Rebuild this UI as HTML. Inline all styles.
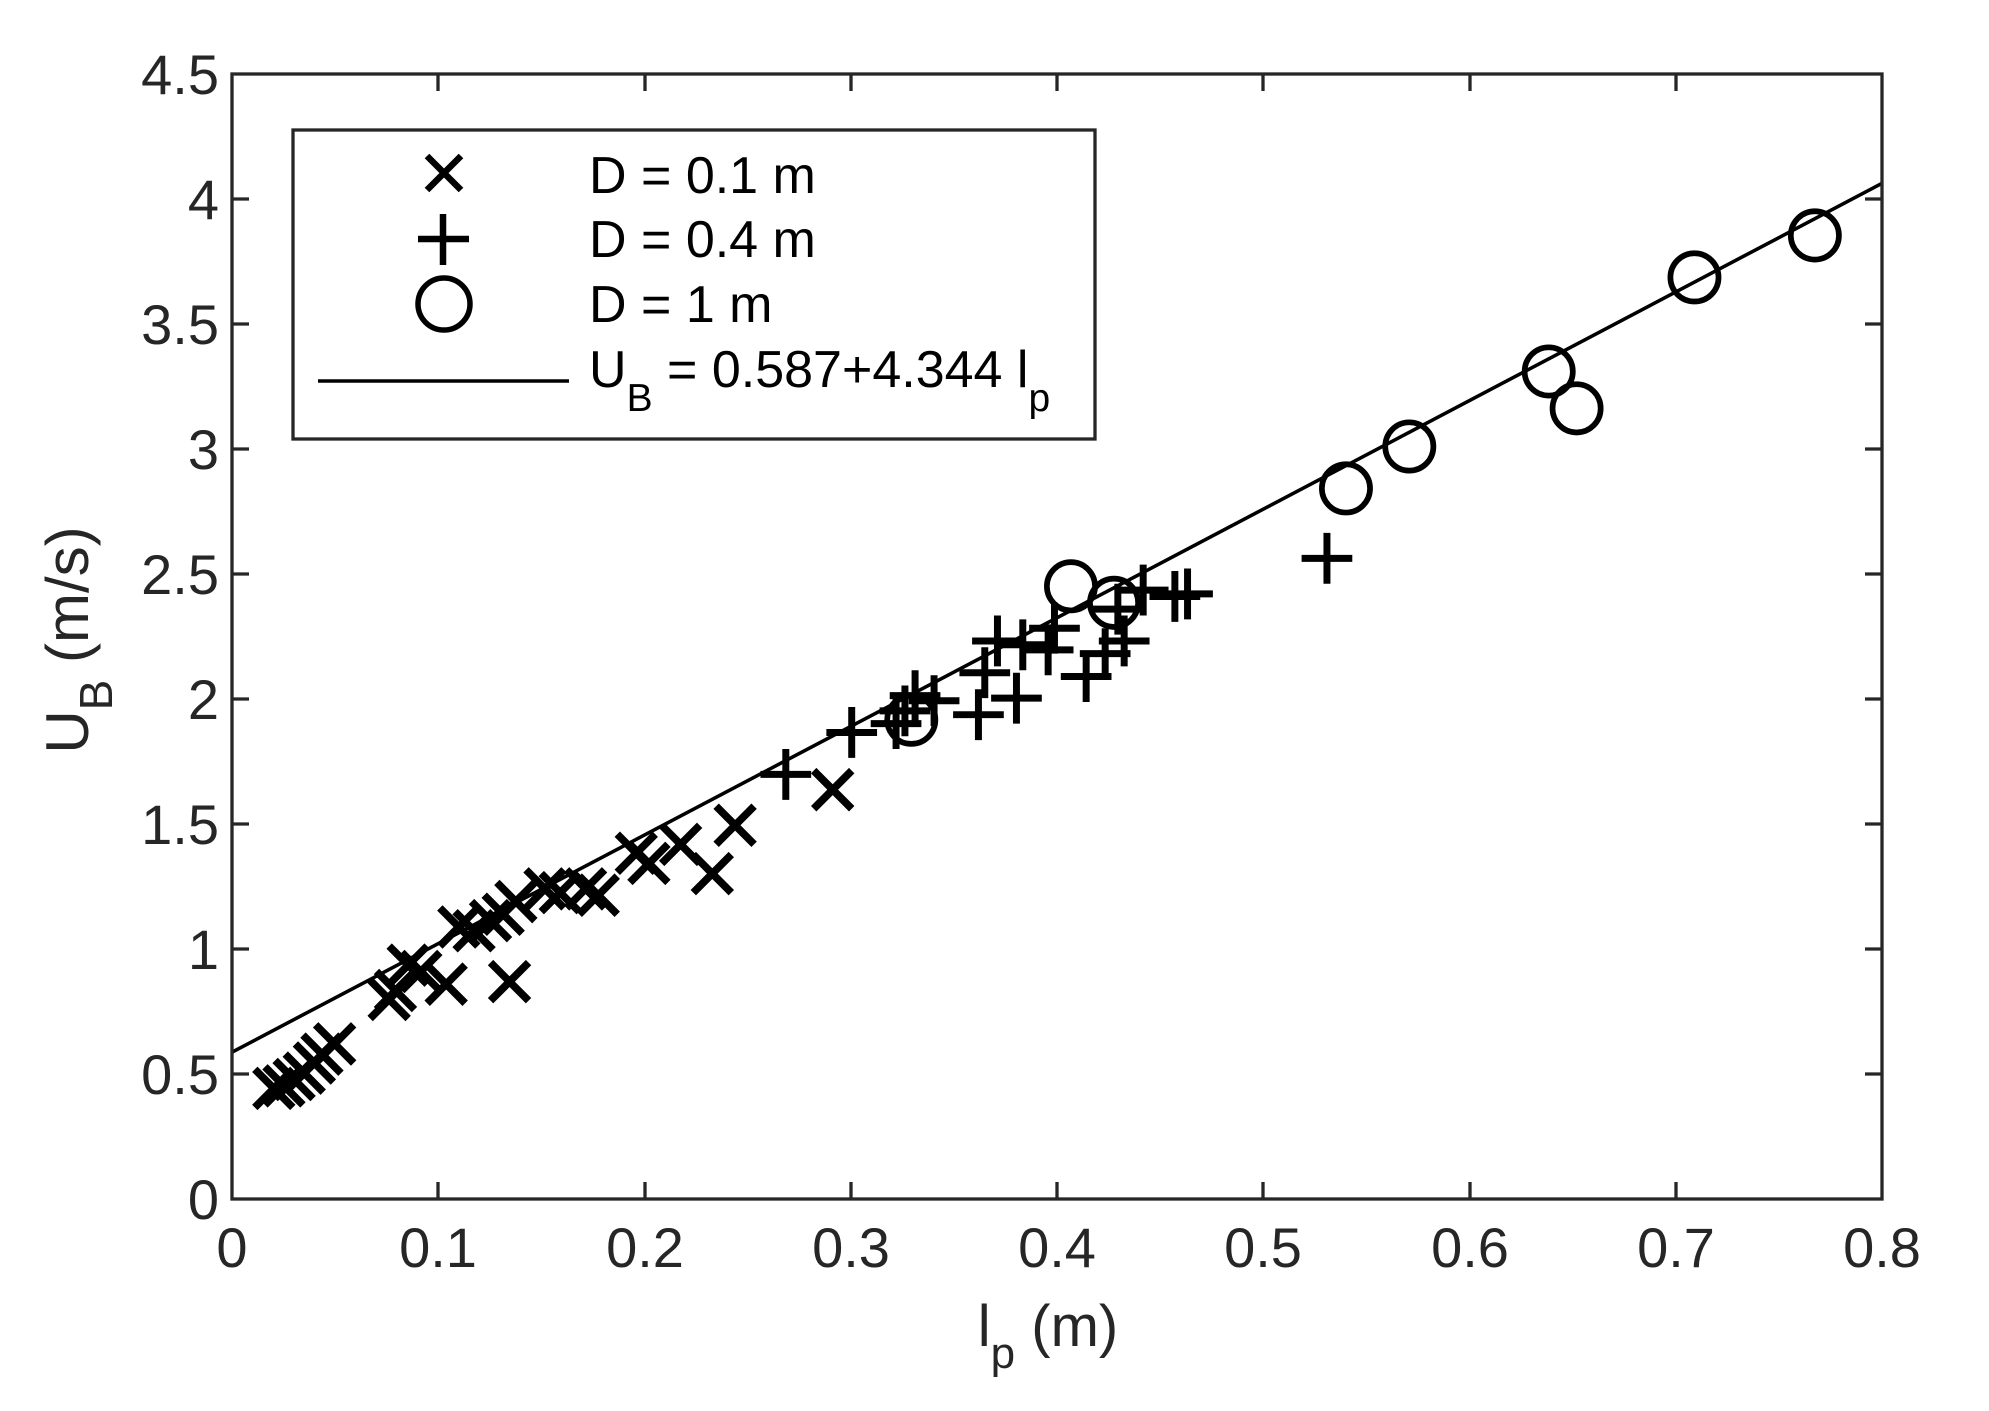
<!DOCTYPE html>
<html><head><meta charset="utf-8"><style>html,body{margin:0;padding:0;background:#fff}svg{display:block}</style></head>
<body>
<svg width="1989" height="1411" viewBox="0 0 1989 1411" xmlns="http://www.w3.org/2000/svg" font-family="Liberation Sans, Arial, sans-serif">
<defs>
<path id="mx" d="M-15,-15L15,15M-15,15L15,-15" stroke="#000" stroke-width="6" fill="none"/>
<path id="mp" d="M-20,0H20M0,-20V20" stroke="#000" stroke-width="5.5" fill="none"/>
<circle id="mo" r="19" stroke="#000" stroke-width="4.5" fill="none"/>
</defs>
<rect width="1989" height="1411" fill="#fff"/>
<g transform="translate(232 74) scale(1.2673 1.2712) translate(-181 -59)">
<line x1="181" y1="828.5" x2="1483" y2="145" stroke="#000" stroke-width="2.8"/>
<g>
<use href="#mx" x="214" y="857"/><use href="#mx" x="222" y="855"/><use href="#mx" x="230" y="850"/><use href="#mx" x="238" y="845"/><use href="#mx" x="246" y="837"/><use href="#mx" x="252" y="830"/><use href="#mx" x="262" y="822"/><use href="#mx" x="305" y="787"/><use href="#mx" x="310" y="780"/><use href="#mx" x="320" y="760"/><use href="#mx" x="330" y="765"/><use href="#mx" x="350" y="775"/><use href="#mx" x="360" y="730"/><use href="#mx" x="372" y="733"/><use href="#mx" x="385" y="725"/><use href="#mx" x="395" y="720"/><use href="#mx" x="400" y="773"/><use href="#mx" x="405" y="710"/><use href="#mx" x="428" y="700"/><use href="#mx" x="440" y="703"/><use href="#mx" x="460" y="700"/><use href="#mx" x="470" y="705"/><use href="#mx" x="500" y="672"/><use href="#mx" x="510" y="680"/><use href="#mx" x="535" y="665"/><use href="#mx" x="560" y="688"/><use href="#mx" x="578" y="650"/><use href="#mx" x="655" y="622"/>
</g>
<g>
<use href="#mp" x="618" y="610"/><use href="#mp" x="670" y="577"/><use href="#mp" x="712" y="560"/><use href="#mp" x="720" y="548"/><use href="#mp" x="735" y="552"/><use href="#mp" x="705" y="570"/><use href="#mp" x="770" y="563"/><use href="#mp" x="775" y="530"/><use href="#mp" x="785" y="505"/><use href="#mp" x="800" y="550"/><use href="#mp" x="805" y="508"/><use href="#mp" x="825" y="512"/><use href="#mp" x="830" y="495"/><use href="#mp" x="855" y="533"/><use href="#mp" x="870" y="515"/><use href="#mp" x="885" y="505"/><use href="#mp" x="880" y="480"/><use href="#mp" x="900" y="465"/><use href="#mp" x="925" y="470"/><use href="#mp" x="935" y="468"/><use href="#mp" x="1045" y="440"/>
</g>
<g>
<use href="#mo" x="717" y="567"/><use href="#mo" x="843" y="462"/><use href="#mo" x="877" y="475"/><use href="#mo" x="1060" y="385"/><use href="#mo" x="1110" y="352"/><use href="#mo" x="1220" y="293"/><use href="#mo" x="1242" y="322"/><use href="#mo" x="1335" y="219"/><use href="#mo" x="1430" y="186"/>
</g>
</g>
<g stroke="#262626" stroke-width="3.3" fill="none">
<rect x="232" y="74" width="1650" height="1125"/>
<path d="M438,1199v-17M645,1199v-17M851,1199v-17M1057,1199v-17M1263,1199v-17M1470,1199v-17M1676,1199v-17
M438,74v17M645,74v17M851,74v17M1057,74v17M1263,74v17M1470,74v17M1676,74v17
M232,1074h17M232,949h17M232,824h17M232,699h17M232,574h17M232,449h17M232,324h17M232,199h17
M1882,1074h-17M1882,949h-17M1882,824h-17M1882,699h-17M1882,574h-17M1882,449h-17M1882,324h-17M1882,199h-17"/>
</g>
<g fill="#262626" font-size="56" text-anchor="middle">
<text x="232" y="1267">0</text><text x="438" y="1267">0.1</text><text x="645" y="1267">0.2</text><text x="851" y="1267">0.3</text><text x="1057" y="1267">0.4</text><text x="1263" y="1267">0.5</text><text x="1470" y="1267">0.6</text><text x="1676" y="1267">0.7</text><text x="1882" y="1267">0.8</text>
</g>
<g fill="#262626" font-size="56" text-anchor="end">
<text x="219" y="1219">0</text><text x="219" y="1094">0.5</text><text x="219" y="969">1</text><text x="219" y="844">1.5</text><text x="219" y="719">2</text><text x="219" y="594">2.5</text><text x="219" y="469">3</text><text x="219" y="344">3.5</text><text x="219" y="219">4</text><text x="219" y="94">4.5</text>
</g>
<text x="1048" y="1346" font-size="58" fill="#262626" text-anchor="middle">l<tspan font-size="44" dy="22">p</tspan><tspan dy="-22"> (m)</tspan></text>
<text transform="translate(88 640) rotate(-90)" font-size="60" fill="#262626" text-anchor="middle">U<tspan font-size="46" dy="24">B</tspan><tspan dy="-24"> (m/s)</tspan></text>
<rect x="293" y="130" width="802" height="309" fill="#fff" stroke="#262626" stroke-width="3.3"/>
<path d="M427,156L461,190M427,190L461,156" stroke="#000" stroke-width="6.5"/>
<path d="M418,239H469M443,214V265" stroke="#000" stroke-width="6.5"/>
<circle cx="444" cy="304" r="26" stroke="#000" stroke-width="5.5" fill="none"/>
<line x1="318" y1="381" x2="569" y2="381" stroke="#000" stroke-width="3.5"/>
<g font-size="52" fill="#000">
<text x="589" y="193">D = 0.1 m</text>
<text x="589" y="257">D = 0.4 m</text>
<text x="589" y="322">D = 1 m</text>
<text x="589" y="387">U<tspan font-size="39" dy="24">B</tspan><tspan dy="-24"> = 0.587+4.344 l</tspan><tspan font-size="39" dy="24">p</tspan></text>
</g>
</svg>
</body></html>
